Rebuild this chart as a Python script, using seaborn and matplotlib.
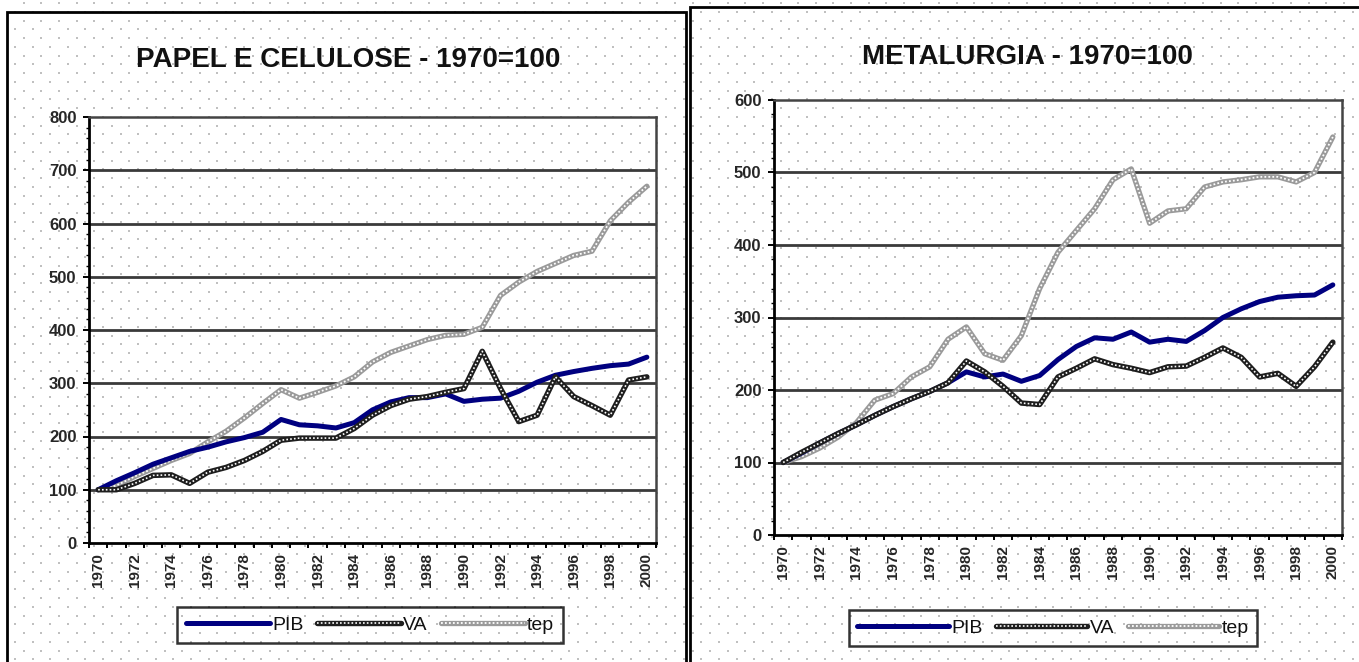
import numpy as np
import pandas as pd
import matplotlib
matplotlib.use("Agg")
import matplotlib.pyplot as plt
import seaborn as sns

# ---- data -------------------------------------------------------------
years = list(range(1970, 2001))
year_labels = [str(y) for y in range(1970, 2001, 2)]

papel_pib = [100, 117, 132, 148, 160, 172, 180, 190, 198, 208, 232, 222, 220, 216, 226,
             250, 265, 273, 273, 280, 266, 270, 272, 285, 302, 315, 322, 328, 333, 336, 349]
papel_va = [100, 100, 112, 127, 128, 112, 133, 142, 155, 172, 193, 197, 197, 197, 215,
            240, 258, 270, 275, 283, 290, 360, 290, 228, 240, 312, 275, 258, 240, 306, 312]
papel_tep = [100, 108, 125, 140, 155, 168, 190, 210, 235, 262, 288, 272, 283, 295, 312,
             340, 358, 370, 382, 390, 392, 405, 465, 490, 510, 525, 540, 548, 605, 640, 670]

metal_pib = [100, 113, 127, 140, 152, 165, 177, 188, 198, 210, 225, 218, 222, 212, 220,
             242, 260, 272, 270, 280, 266, 270, 267, 282, 300, 312, 322, 328, 330, 331, 345]
metal_va = [100, 114, 127, 140, 152, 165, 177, 188, 198, 210, 240, 225, 205, 182, 180,
            218, 230, 243, 235, 230, 224, 232, 233, 245, 258, 245, 218, 223, 205, 232, 266]
metal_tep = [100, 108, 120, 135, 155, 186, 195, 218, 232, 270, 287, 250, 241, 275, 340,
             390, 420, 450, 490, 505, 430, 447, 450, 480, 487, 490, 494, 494, 487, 500, 549]

series_names = ["PIB", "VA", "tep"]
titles = ["PAPEL E CELULOSE - 1970=100", "METALURGIA - 1970=100"]

# ---- styling ----------------------------------------------------------
sns.set_theme(style="white")
plt.rcParams["font.family"] = ["Liberation Sans", "DejaVu Sans"]
plt.rcParams["text.color"] = "#111111"

W, H = 1359, 662
fig = plt.figure(figsize=(W / 100, H / 100), dpi=100, facecolor="white")

# dotted sheet texture and the two chart frames, in pixel coordinates
bg = fig.add_axes([0, 0, 1, 1], zorder=-10)
bg.set_xlim(0, W)
bg.set_ylim(H, 0)
bg.axis("off")
dx, dy = [], []
for r, yy in enumerate(np.arange(3, H, 8.75)):
    off = 0 if r % 2 else 8.8
    for xx in np.arange(15 + off, W, 17.6):
        dx.append(xx)
        dy.append(yy)
bg.scatter(dx, dy, s=1.2, c="#c0c0c0", marker="s", linewidths=0)
for (x0, y0, x1, y1) in [(7, 12, 686, 672), (690, 7, 1370, 672)]:
    bg.plot([x0, x0, x1, x1], [y1, y0, y0, y1], color="black", lw=2.0,
            solid_joinstyle="miter")


def px_axes(x0, y0, x1, y1):
    return fig.add_axes([x0 / W, 1 - y1 / H, (x1 - x0) / W, (y1 - y0) / H])


def draw_panel(ax, pib, va, tep, ymax):
    df = pd.DataFrame({"ano": years, "PIB": pib, "VA": va, "tep": tep})
    ax.set_facecolor("none")
    for v in range(100, ymax, 100):
        ax.axhline(v, color="#3a3a3a", lw=2.0, zorder=1)

    # tep: light grey chain
    sns.lineplot(data=df, x="ano", y="tep", ax=ax, color="#9a9a9a", lw=3.8, zorder=3)
    tep_a = ax.lines[-1]
    sns.lineplot(data=df, x="ano", y="tep", ax=ax, color="white", lw=1.3,
                 linestyle=(0, (1.0, 1.2)), zorder=3.1)
    tep_b = ax.lines[-1]
    # PIB: solid navy
    sns.lineplot(data=df, x="ano", y="PIB", ax=ax, color="#000080", lw=3.6, zorder=4)
    pib_l = ax.lines[-1]
    # VA: dark chain
    sns.lineplot(data=df, x="ano", y="VA", ax=ax, color="#1e1e1e", lw=3.9, zorder=5)
    va_a = ax.lines[-1]
    sns.lineplot(data=df, x="ano", y="VA", ax=ax, color="white", lw=1.2,
                 linestyle=(0, (1.0, 1.3)), zorder=5.1)
    va_b = ax.lines[-1]

    ax.set_xlim(1969.5, 2000.5)
    ax.set_ylim(0, ymax)
    ax.set_yticks(range(0, ymax + 1, 100))
    ax.set_yticks(range(0, ymax + 1, 20), minor=True)
    ax.set_xticks(range(1970, 2001, 2))
    ax.set_xticklabels(year_labels, rotation=90, fontsize=11, fontweight="bold")
    ax.set_xticks(np.arange(1969.5, 2000.6, 1.0), minor=True)
    ax.set_yticklabels([str(v) for v in range(0, ymax + 1, 100)],
                       fontsize=12, fontweight="bold")
    ax.tick_params(axis="x", which="major", length=0, pad=7.5)
    ax.tick_params(axis="x", which="minor", length=3.5, width=1.4, color="black",
                   direction="out", bottom=True)
    ax.tick_params(axis="y", which="major", length=4, width=1.4, color="black",
                   direction="out", left=True, pad=5)
    ax.tick_params(axis="y", which="minor", length=2.5, width=1.0, color="black",
                   direction="out", left=True)
    ax.set_xlabel("")
    ax.set_ylabel("")
    for side in ["left", "bottom"]:
        ax.spines[side].set_color("black")
        ax.spines[side].set_linewidth(2.0)
    for side in ["top", "right"]:
        ax.spines[side].set_color("#444444")
        ax.spines[side].set_linewidth(1.8)
    ax.grid(False)
    return [pib_l, (va_a, va_b), (tep_a, tep_b)]


ax1 = px_axes(89, 117, 656, 543)
h1 = draw_panel(ax1, papel_pib, papel_va, papel_tep, 800)
ax2 = px_axes(774, 100, 1342, 535)
h2 = draw_panel(ax2, metal_pib, metal_va, metal_tep, 600)

fig.text(348 / W, 1 - 60 / H, titles[0], ha="center", va="center",
         fontsize=20, fontweight="bold")
fig.text(1027 / W, 1 - 57 / H, titles[1], ha="center", va="center",
         fontsize=20, fontweight="bold")

for handles, cx, cy, hl in [(h1, 370, 625, 4.3), (h2, 1053, 628, 4.7)]:
    leg = fig.legend(handles, series_names, loc="center",
                     bbox_to_anchor=(cx / W, 1 - cy / H), ncol=3, frameon=True,
                     fancybox=False, edgecolor="black", facecolor="none",
                     handlelength=hl, handletextpad=0.12,
                     columnspacing=0.7, fontsize=14, borderpad=0.45)
    leg.get_frame().set_linewidth(1.8)

fig.savefig("out.png", dpi=100, facecolor="white")
